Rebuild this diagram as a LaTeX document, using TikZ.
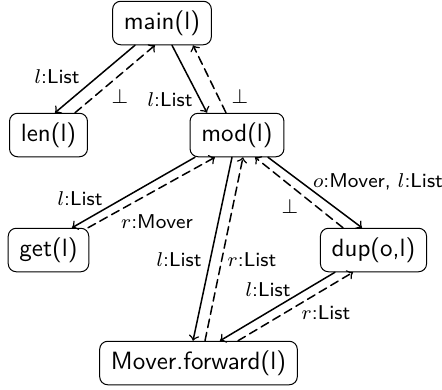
\documentclass[tikz,border=0pt]{standalone}
\renewcommand{\familydefault}{\sfdefault}
\tikzset{
  fn/.style={draw,rounded corners=3.2pt,inner xsep=4.5pt,inner ysep=3.7pt},
  call/.style={->,semithick},
  ret/.style={->,semithick,dash pattern=on 3.4pt off 2pt},
  lbl/.style={font=\footnotesize,inner sep=0pt}
}
\begin{document}
\begin{tikzpicture}[x=0.4pt,y=-0.4pt,line cap=round,line join=round]
\useasboundingbox (0,0) rectangle (442,389);
% functions
\node[fn] (main) at (162,23) {main(l)};
\node[fn] (len) at (48.5,135) {len(l)};
\node[fn] (mod) at (237,135) {mod(l)};
\node[fn] (get) at (48.5,250) {get(l)};
\node[fn] (dup) at (373.5,250) {dup(o,l)};
\node[fn] (mover) at (198.5,363) {Mover.forward(l)};

% calls and returns
\draw[call] ([xshift=-10.8pt]main.south) -- ([xshift=2.6pt]len.north);
\draw[ret] ([xshift=10.6pt]len.north) -- ([xshift=-2.8pt]main.south);
\draw[call] ([xshift=4pt]main.south) -- ([xshift=-12pt]mod.north);
\draw[ret] ([xshift=-4.4pt]mod.north) -- ([xshift=12.4pt]main.south);
\draw[call] ([xshift=-16.8pt]mod.south) -- ([xshift=9.4pt]get.north);
\draw[ret] ([xshift=15.8pt]get.north) -- ([xshift=-8.8pt]mod.south);
\draw[call] ([xshift=-2pt]mod.south) -- ([xshift=-2.2pt]mover.north);
\draw[ret] ([xshift=2.6pt]mover.north) -- ([xshift=2.4pt]mod.south);
\draw[call] ([xshift=12.4pt]mod.south) -- ([xshift=-4.6pt]dup.north);
\draw[ret] ([xshift=-12.2pt]dup.north) -- ([xshift=7.2pt]mod.south);
\draw[call] ([xshift=-15.4pt]dup.south) -- ([xshift=8.6pt]mover.north);
\draw[ret] ([xshift=15.8pt]mover.north) -- ([xshift=-8.2pt]dup.south);

% labels
\node[lbl] (l-len) at (57,77) {$l$:List};
\node[lbl] (r-len) at (120,97) {$\bot$};
\node[lbl] (l-mod) at (170,100) {$l$:List};
\node[lbl] (r-mod) at (240,97) {$\bot$};
\node[lbl] (l-get) at (80,199) {$l$:List};
\node[lbl] (r-get) at (157,222) {$r$:Mover};
\node[lbl] (l-mov) at (179,260) {$l$:List};
\node[lbl] (r-mov) at (252,260) {$r$:List};
\node[lbl] (l-dup) at (378,182) {$o$:Mover, $l$:List};
\node[lbl] (r-dup) at (290,207) {$\bot$};
\node[lbl] (l-dmv) at (268,290) {$l$:List};
\node[lbl] (r-dmv) at (326,313) {$r$:List};
\end{tikzpicture}
\end{document}
